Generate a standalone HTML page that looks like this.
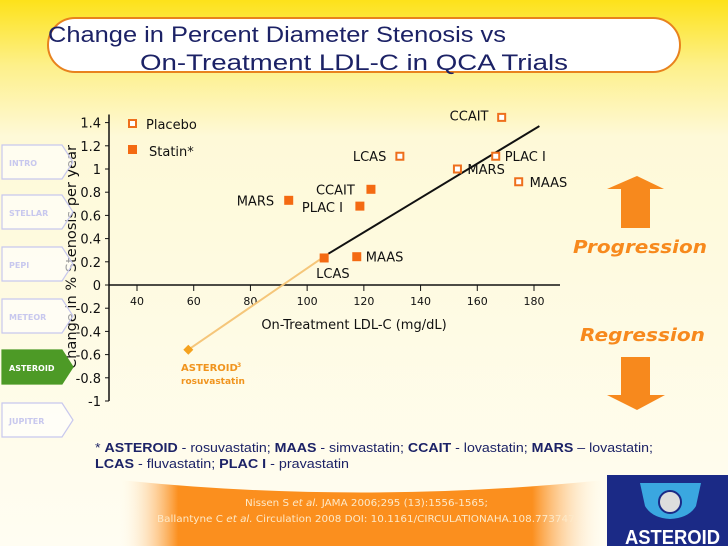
<!DOCTYPE html>
<html><head><meta charset="utf-8"><style>
html,body{margin:0;padding:0;}
body{width:728px;height:546px;overflow:hidden;font-family:"Liberation Sans",sans-serif;}
svg text{font-family:"DejaVu Sans","Liberation Sans",sans-serif;}
</style></head><body>
<svg id="chart" width="728" height="546" viewBox="0 0 728 546" xmlns="http://www.w3.org/2000/svg">
<defs>
<linearGradient id="bg" x1="0" y1="0" x2="0" y2="1">
<stop offset="0" stop-color="#fde21a"/><stop offset="0.12" stop-color="#fdf08a"/><stop offset="0.25" stop-color="#fef9d8"/><stop offset="1" stop-color="#fffdf2"/>
</linearGradient>
<linearGradient id="band" x1="0" y1="0" x2="1" y2="0">
<stop offset="0" stop-color="#fff4e0" stop-opacity="0"/><stop offset="0.12" stop-color="#fb8f1e"/><stop offset="0.85" stop-color="#fb8f1e"/><stop offset="1" stop-color="#fff4e0" stop-opacity="0"/>
</linearGradient>
</defs>
<rect width="728" height="546" fill="url(#bg)"/>
<rect x="48" y="18" width="632" height="54" rx="27" fill="#fff" stroke="#e8821e" stroke-width="2"/>
<text x="48" y="42" font-size="22" fill="#1c2266" textLength="458" lengthAdjust="spacingAndGlyphs" style="font-family:'Liberation Sans',sans-serif">Change in Percent Diameter Stenosis vs</text>
<text x="140" y="70" font-size="22" fill="#1c2266" textLength="428" lengthAdjust="spacingAndGlyphs" style="font-family:'Liberation Sans',sans-serif">On-Treatment  LDL-C in QCA Trials</text>
<g id="plot"></g>
<g id="tabs"></g>
<polygon points="637,176 664,189 650,189 650,228 621,228 621,189 607,189" fill="#f7891d"/>
<polygon points="637,410 665,395 650,395 650,357 621,357 621,395 607,395" fill="#f7891d"/>
<text x="573" y="253" font-size="18" font-weight="bold" font-style="italic" fill="#f7891d" textLength="134" lengthAdjust="spacingAndGlyphs">Progression</text>
<text x="580" y="341" font-size="18" font-weight="bold" font-style="italic" fill="#f7891d" textLength="125" lengthAdjust="spacingAndGlyphs">Regression</text>
<text x="95" y="452" font-size="13" fill="#1c2266" textLength="558" lengthAdjust="spacingAndGlyphs" style="font-family:'Liberation Sans',sans-serif">* <tspan font-weight="bold">ASTEROID</tspan> - rosuvastatin; <tspan font-weight="bold">MAAS</tspan> - simvastatin; <tspan font-weight="bold">CCAIT</tspan> - lovastatin; <tspan font-weight="bold">MARS</tspan> – lovastatin;</text>
<text x="95" y="468" font-size="13" fill="#1c2266" textLength="254" lengthAdjust="spacingAndGlyphs" style="font-family:'Liberation Sans',sans-serif"><tspan font-weight="bold">LCAS</tspan> -  fluvastatin; <tspan font-weight="bold">PLAC I</tspan> - pravastatin</text>
<path d="M120,480 Q360,505 605,480 L605,546 L120,546 Z" fill="url(#band)"/>
<text x="245" y="506" font-size="10" fill="#fde9c8" textLength="243" lengthAdjust="spacingAndGlyphs">Nissen S <tspan font-style="italic">et al.</tspan> JAMA 2006;295 (13):1556-1565;</text>
<text x="157" y="522" font-size="10" fill="#fde9c8" textLength="421" lengthAdjust="spacingAndGlyphs">Ballantyne C  <tspan font-style="italic">et al.</tspan> Circulation 2008 DOI: 10.1161/CIRCULATIONAHA.108.773747.</text>
<rect x="607" y="475" width="121" height="71" fill="#1b2a86"/>
<path d="M640,483 L701,483 L696,506 Q689,518 670,519 Q652,518 645,506 Z" fill="#3aa7e0"/>
<circle cx="670" cy="502" r="11" fill="#ddd" stroke="#1b2a86" stroke-width="2"/>
<text x="625" y="544" font-size="20" font-weight="bold" fill="#fff" textLength="95" lengthAdjust="spacingAndGlyphs" style="font-family:'Liberation Sans',sans-serif">ASTEROID</text>
</svg>
<script>
const NS='http://www.w3.org/2000/svg';
const tabNames=['INTRO','STELLAR','PEPI','METEOR','ASTEROID','JUPITER'];
const tabTops=[145,195,247,299,350,403];
const xTicks=[40,60,80,100,120,140,160,180];
const yTicks=[1.4,1.2,1,0.8,0.6,0.4,0.2,0,-0.2,-0.4,-0.6,-0.8,-1];
const yTickLabels=['1.4','1.2','1','0.8','0.6','0.4','0.2','0','-0.2','-0.4','-0.6','-0.8','-1'];
const placeboNames=['CCAIT','LCAS','MARS','PLAC I','MAAS'];
const placeboX=[168.6,132.7,153,166.5,174.6];
const placeboY=[1.445,1.11,1.0,1.11,0.89];
const statinNames=['CCAIT','MARS','PLAC I','LCAS','MAAS'];
const statinX=[122.5,93.5,118.6,106,117.5];
const statinY=[0.825,0.73,0.68,0.233,0.244];
const asteroidX=[58.1];
const asteroidY=[-0.558];
const fitX=[107.5,181.9];
const fitY=[0.27,1.37];
function sx(v){return 137+(v-40)*(534-137)/140;}
function sy(v){return 285-v*116;}
function mk(tag,attrs,parent,txt){const e=document.createElementNS(NS,tag);for(const k in attrs)e.setAttribute(k,attrs[k]);if(txt!==undefined)e.textContent=txt;parent.appendChild(e);return e;}
const tabs=document.getElementById('tabs');
tabNames.forEach((n,i)=>{const t=tabTops[i];const act=n==='ASTEROID';
const g=mk('g',{},tabs);


mk('polygon',{points:`2,${t} 62,${t} 73,${t+17} 62,${t+34} 2,${t+34}`,fill:act?'#4d9a26':'#ffffff','fill-opacity':act?1:0.6,stroke:act?'#4d9a26':'#c8c8ee','stroke-width':1.2},g);
mk('text',{x:9,y:t+21,'font-size':8,'font-weight':'bold',fill:act?'#fff':'#c8c8ee'},g,n);});
const p=document.getElementById('plot');
const yt=mk('text',{x:0,y:0,'font-size':14,fill:'#111','text-anchor':'middle',textLength:224,lengthAdjust:'spacingAndGlyphs',transform:'translate(76,257) rotate(-90)'},p,'Change in % Stenosis per year');


const ya=mk('line',{x1:109,y1:sy(1.47),x2:109,y2:sy(-1),stroke:'#111','stroke-width':1.5},p);


const xa=mk('line',{x1:109,y1:sy(0),x2:560,y2:sy(0),stroke:'#111','stroke-width':1.5},p);


yTicks.forEach((v,i)=>{mk('line',{x1:105,y1:sy(v),x2:109,y2:sy(v),stroke:'#111'},p);
const t=mk('text',{x:101,y:sy(v)+5,'font-size':13,fill:'#111','text-anchor':'end'},p,yTickLabels[i]);

});
xTicks.forEach(v=>{mk('line',{x1:sx(v),y1:sy(0),x2:sx(v),y2:sy(0)+6,stroke:'#111'},p);
const t=mk('text',{x:sx(v),y:sy(0)+20,'font-size':11,fill:'#111','text-anchor':'middle'},p,String(v));

});
const xt=mk('text',{x:354,y:329,'font-size':13,fill:'#111','text-anchor':'middle'},p,'On-Treatment LDL-C (mg/dL)');


const yl=mk('line',{x1:sx(asteroidX[0]),y1:sy(asteroidY[0]),x2:sx(fitX[0]),y2:sy(fitY[0]),stroke:'#f5c67a','stroke-width':2},p);


const bl=mk('line',{x1:sx(fitX[0]),y1:sy(fitY[0]),x2:sx(fitX[1]),y2:sy(fitY[1]),stroke:'#111','stroke-width':2},p);


const labOff={'CCAIT':[-52,3],'LCAS':[-47,5],'MARS':[10,5],'PLAC I':[9,5],'MAAS':[11,5]};
placeboNames.forEach((n,i)=>{const x=sx(placeboX[i]),y=sy(placeboY[i]);
const r=mk('rect',{x:x-3.5,y:y-3.5,width:7,height:7,fill:'#fff',stroke:'#ee6f1c','stroke-width':2},p);


const o=labOff[n];
const t=mk('text',{x:x+o[0],y:y+o[1],'font-size':13,fill:'#111'},p,n);

});
const sOff={'CCAIT':[-55,5],'MARS':[-52,5],'PLAC I':[-58,6],'LCAS':[-8,20],'MAAS':[9,5]};
statinNames.forEach((n,i)=>{const x=sx(statinX[i]),y=sy(statinY[i]);
const r=mk('rect',{x:x-4.5,y:y-4.5,width:9,height:9,fill:'#f46a12'},p);


const o=sOff[n];
const t=mk('text',{x:x+o[0],y:y+o[1],'font-size':13,fill:'#111'},p,n);

});
const ax=sx(asteroidX[0]),ay=sy(asteroidY[0]);
const d=mk('polygon',{points:`${ax},${ay-5} ${ax+5},${ay} ${ax},${ay+5} ${ax-5},${ay}`,fill:'#f5a21e'},p);


const a1=mk('text',{x:181,y:371,'font-size':10,'font-weight':'bold',fill:'#f0941e'},p,'ASTEROID');


mk('text',{x:237,y:367,'font-size':6,'font-weight':'bold',fill:'#f0941e'},p,'3');
const a2=mk('text',{x:181,y:384,'font-size':9,'font-weight':'bold',fill:'#f0941e'},p,'rosuvastatin');


const l1=mk('rect',{x:129,y:120,width:7,height:7,fill:'#fff',stroke:'#ee6f1c','stroke-width':2},p);


const lt1=mk('text',{x:146,y:129,'font-size':13,fill:'#111'},p,'Placebo');


const l2=mk('rect',{x:128,y:145,width:9,height:9,fill:'#f46a12'},p);


const lt2=mk('text',{x:149,y:156,'font-size':13,fill:'#111'},p,'Statin*');


</script>
</body></html>
